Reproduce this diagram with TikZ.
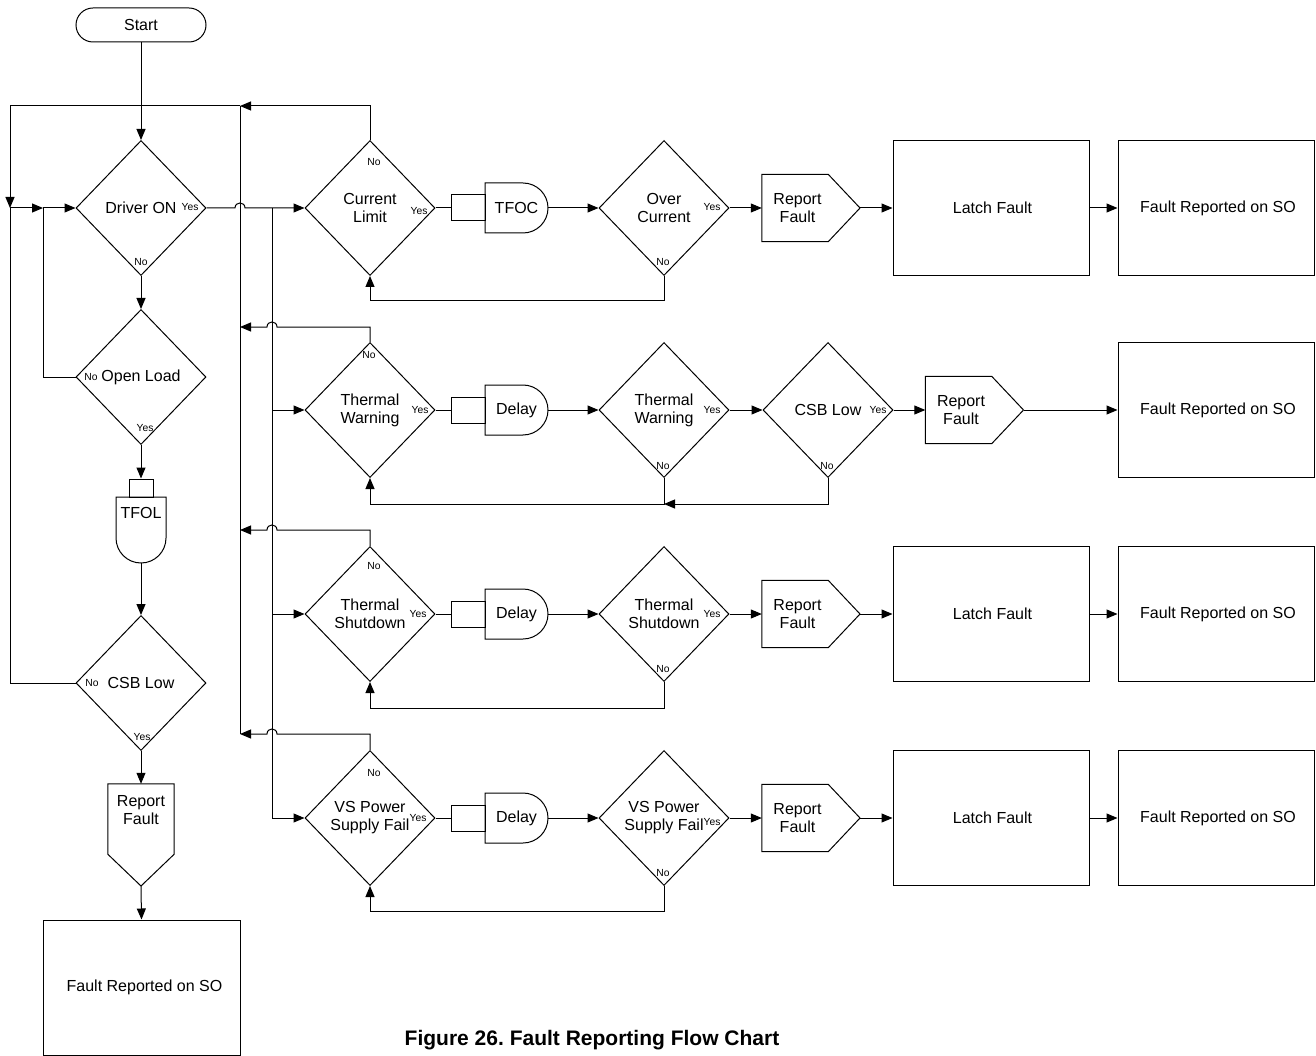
\documentclass[tikz,border=0pt]{standalone}
\usepackage{fontspec}
\setmainfont{Liberation Sans}
\usetikzlibrary{shapes.geometric,arrows.meta,calc}
\newcommand{\mainsz}{\fontsize{16}{18}\selectfont}
\newcommand{\smallsz}{\fontsize{10.3}{12}\selectfont}
\tikzset{
 ln/.style={line width=1pt, draw=black},
 arr/.style={ln, -{Triangle[length=11pt,width=9pt]}},
 dia/.style={diamond, draw, line width=1pt, minimum width=130pt, minimum height=135pt, inner sep=0pt, align=center, font=\mainsz},
 box/.style={rectangle, draw, line width=1pt, minimum width=196pt, minimum height=135pt, inner sep=0pt, align=center, font=\mainsz},
 yn/.style={font=\smallsz, inner sep=0pt},
 txt/.style={font=\mainsz, align=center, inner sep=0pt},
 gatebody/.style={minimum width=63pt, minimum height=50pt, inner sep=0pt, font=\mainsz},
 gatein/.style={draw, line width=1pt, minimum width=34pt, minimum height=26pt, inner sep=0pt},
 rfp/.style={minimum width=66pt, minimum height=67pt, inner sep=0pt, align=center, font=\mainsz},
}
% #1 name, #2 body left x, #3 centre y, #4 text
\newcommand{\gateshape}[4]{%
 \node[gatein] (#1in) at (#2-17,#3) {};
 \node[gatebody] (#1) at (#2+31.5,#3) {#4};
 \draw[ln] (#2,#3-25) -- (#2+38,#3-25) .. controls (#2+51.8,#3-25) and (#2+63,#3-13.8) .. (#2+63,#3) .. controls (#2+63,#3+13.8) and (#2+51.8,#3+25) .. (#2+38,#3+25) -- (#2,#3+25) -- cycle;
}
% #1 name, #2 rect centre x, #3 centre y
\newcommand{\rfshape}[3]{%
 \node[rfp] (#1) at (#2,#3) {\hspace*{5pt}Report\\\hspace*{5pt}Fault};
 \coordinate (#1tip) at (#2+65,#3);
 \draw[ln] (#1.north west) -- (#1.north east) -- (#1tip) -- (#1.south east) -- (#1.south west) -- cycle;
}
\begin{document}
\frenchspacing
\begin{tikzpicture}[x=1pt,y=-1pt]
\useasboundingbox (0,0) rectangle (1316,1056);

% ---------- left column ----------
\node[draw, line width=1pt, rounded corners=17pt, minimum width=130pt, minimum height=34pt, inner sep=0pt, font=\mainsz] (start) at (141,25) {Start};
\node[dia] (don) at (141,208) {Driver ON};
\node[dia] (ol) at (141,377) {Open Load};
\node[draw, line width=1pt, minimum width=24pt, minimum height=18pt, inner sep=0pt] (tfolin) at (141,488) {};
\node[minimum width=50pt, minimum height=66pt, inner sep=0pt] (tfol) at (141,530) {};
\draw[ln] (116,497) -- (166,497) -- (166,538) .. controls (166,551.8) and (154.8,563) .. (141,563) .. controls (127.2,563) and (116,551.8) .. (116,538) -- cycle;
\node[txt] (tfoltxt) at (141,513) {TFOL};
\node[dia] (csbl) at (141,683) {CSB Low};
\node[minimum width=66pt, minimum height=70pt, inner sep=0pt] (rfl) at (141,819) {};
\coordinate (rfltip) at (141,886);
\draw[ln] (rfl.north west) -- (rfl.north east) -- (rfl.south east) -- (rfltip) -- (rfl.south west) -- cycle;
\node[txt] (rfltxt) at (141,810) {Report\\Fault};
\node[box, minimum width=197pt] (frl) at (141.5,987.5) {\hspace*{6pt}Fault Reported on SO};

\node[yn] at (190,207) {Yes};
\node[yn] at (141,262) {No};
\node[yn] at (91,377) {No};
\node[yn] at (145,428) {Yes};
\node[yn] at (92,683) {No};
\node[yn] at (142,737) {Yes};

\draw[arr] (start) -- (don.north);
\draw[arr] (don.south) -- (ol.north);
\draw[arr] (ol.south) -- (tfolin.north);
\draw[arr] (tfol.south) -- (csbl.north);
\draw[arr] (csbl.south) -- (rfl.north);
\draw[arr] (rfltip) -- (frl.north);

% ---------- row 1 ----------
\node[dia] (cl) at (370,208) {Current\\Limit};
\gateshape{tfoc}{485}{208}{TFOC}
\node[dia] (oc) at (664,208) {Over\\Current};
\rfshape{rfa}{795}{208}
\node[box] (lfa) at (991,208) {\hspace*{3pt}Latch Fault};
\node[box] (fra) at (1216,208) {\hspace*{4pt}Fault Reported on SO};
\node[yn] at (374,162) {No};
\node[yn] at (419,211) {Yes};
\node[yn] at (712,207) {Yes};
\node[yn] at (663,262) {No};

% ---------- row 2 ----------
\node[dia] (twa) at (370,410) {Thermal\\Warning};
\gateshape{dlb}{485}{410}{Delay}
\node[dia] (twb) at (664,410) {Thermal\\Warning};
\node[dia] (csbb) at (828,410) {CSB Low};
\rfshape{rfb}{958.5}{410}
\node[box] (frb) at (1216,410) {\hspace*{4pt}Fault Reported on SO};
\node[yn] at (369,355) {No};
\node[yn] at (420,410) {Yes};
\node[yn] at (712,410) {Yes};
\node[yn] at (663,466) {No};
\node[yn] at (878,410) {Yes};
\node[yn] at (827,466) {No};

% ---------- row 3 ----------
\node[dia] (tsa) at (370,614) {Thermal\\Shutdown};
\gateshape{dlc}{485}{614}{Delay}
\node[dia] (tsb) at (664,614) {Thermal\\Shutdown};
\rfshape{rfc}{795}{614}
\node[box] (lfc) at (991,614) {\hspace*{3pt}Latch Fault};
\node[box] (frc) at (1216,614) {\hspace*{4pt}Fault Reported on SO};
\node[yn] at (374,566) {No};
\node[yn] at (418,614) {Yes};
\node[yn] at (712,614) {Yes};
\node[yn] at (663,669) {No};

% ---------- row 4 ----------
\node[dia] (vsa) at (370,818) {VS Power\\Supply Fail};
\gateshape{dld}{485}{818}{Delay}
\node[dia] (vsb) at (664,818) {VS Power\\Supply Fail};
\rfshape{rfd}{795}{818}
\node[box] (lfd) at (991,818) {\hspace*{3pt}Latch Fault};
\node[box] (frd) at (1216,818) {\hspace*{4pt}Fault Reported on SO};
\node[yn] at (374,773) {No};
\node[yn] at (418,818) {Yes};
\node[yn] at (712,822) {Yes};
\node[yn] at (663,873) {No};

% ---------- forward connectors ----------
\draw[ln] (cl.east) -- (tfocin.west);
\draw[arr] (tfoc.east) -- (oc.west);
\draw[arr] (oc.east) -- (rfa.west);
\draw[arr] (rfatip) -- (lfa.west);
\draw[arr] (lfa.east) -- (fra.west);

\draw[ln] (twa.east) -- (dlbin.west);
\draw[arr] (dlb.east) -- (twb.west);
\draw[arr] (twb.east) -- (csbb.west);
\draw[arr] (csbb.east) -- (rfb.west);
\draw[arr] (rfbtip) -- (frb.west);

\draw[ln] (tsa.east) -- (dlcin.west);
\draw[arr] (dlc.east) -- (tsb.west);
\draw[arr] (tsb.east) -- (rfc.west);
\draw[arr] (rfctip) -- (lfc.west);
\draw[arr] (lfc.east) -- (frc.west);

\draw[ln] (vsa.east) -- (dldin.west);
\draw[arr] (dld.east) -- (vsb.west);
\draw[arr] (vsb.east) -- (rfd.west);
\draw[arr] (rfdtip) -- (lfd.west);
\draw[arr] (lfd.east) -- (frd.west);

% ---------- buses and loops ----------
\coordinate (busTop) at (240,106);
\coordinate (busBot) at (240,734);
\coordinate (lTop) at (10,106);
\coordinate (lJ) at (10,208);
\coordinate (oJ) at (43,208);
\coordinate (bJ) at (272,208);
\coordinate (bBot) at (272,818);
\coordinate (bB) at (272,410);
\coordinate (bC) at (272,614);
\coordinate (rB) at (240,327);
\coordinate (rC) at (240,530);
\coordinate (rD) at (240,734);
\coordinate (jB) at (664,504);

\draw[arr] (cl.north) |- (busTop);
\draw[arr] (busTop) -- (lTop) -- (lJ);
\draw[arr] (lJ) -- (oJ);
\draw[arr] (oJ) -- (don.west);
\draw[ln] (csbl.west) -| (lJ);
\draw[ln] (ol.west) -| (oJ);
\draw[ln] (busTop) -- (busBot);

\draw[arr] (don.east) -- (235,208) .. controls (235,201.3) and (245,201.3) .. (245,208) -- (cl.west);
\draw[ln] (bJ) -- (bBot);
\draw[arr] (bB) -- (twa.west);
\draw[arr] (bC) -- (tsa.west);
\draw[arr] (bBot) -- (vsa.west);

\draw[arr] (twa.north) -- (370,327) -- (277,327) .. controls (277,320.3) and (267,320.3) .. (267,327) -- (rB);
\draw[arr] (tsa.north) -- (370,530) -- (277,530) .. controls (277,523.3) and (267,523.3) .. (267,530) -- (rC);
\draw[arr] (vsa.north) -- (370,734) -- (277,734) .. controls (277,727.3) and (267,727.3) .. (267,734) -- (rD);

\draw[arr] (oc.south) -- (664,301) -- (370,301) -- (cl.south);
\draw[arr] (csbb.south) -- (828,504) -- (jB);
\draw[arr] (twb.south) -- (jB) -- (370,504) -- (twa.south);
\draw[arr] (tsb.south) -- (664,708) -- (370,708) -- (tsa.south);
\draw[arr] (vsb.south) -- (664,911) -- (370,911) -- (vsa.south);

% ---------- caption ----------
\node[font=\fontsize{21}{25}\selectfont\bfseries, inner sep=0pt] (title) at (592,1040) {Figure 26. Fault Reporting Flow Chart};
\end{tikzpicture}
\end{document}
